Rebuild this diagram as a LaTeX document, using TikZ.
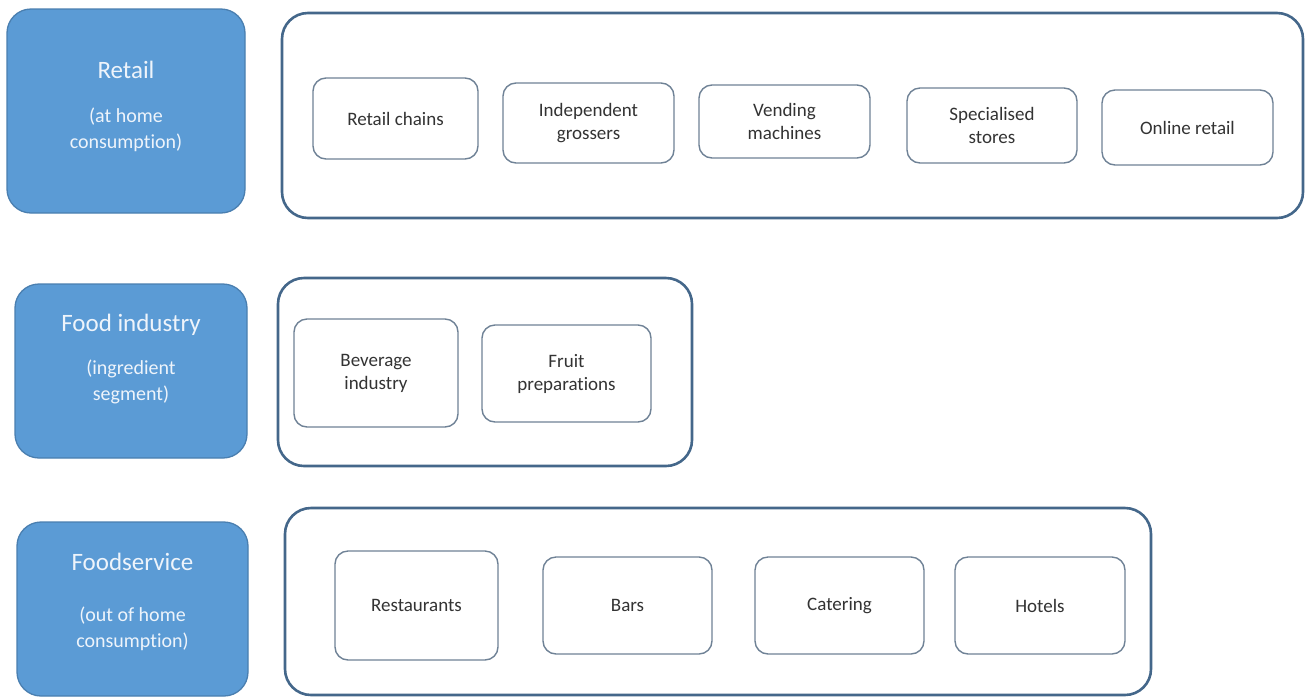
\documentclass[tikz,border=0pt]{standalone}
\usepackage{fontspec}
\setmainfont[Ligatures=CommonOff]{Carlito}
\definecolor{bluefill}{HTML}{5B9BD5}
\definecolor{blueedge}{HTML}{4A7FB0}
\definecolor{outeredge}{HTML}{44678A}
\definecolor{inneredge}{HTML}{6F8296}
\definecolor{innertext}{HTML}{333333}
\definecolor{lighttext}{HTML}{EEF4FB}
\begin{document}
\begin{tikzpicture}[x=1pt,y=-1pt,
  bluebox/.style={draw=blueedge,line width=1.3pt,fill=bluefill,rounded corners=24pt,inner sep=0pt},
  outerbox/.style={draw=outeredge,line width=2.6pt,fill=white,rounded corners=26pt,inner sep=0pt},
  innerbox/.style={draw=inneredge,line width=1.4pt,fill=white,rounded corners=13pt,inner sep=0pt,
     align=center,text=innertext,font=\fontsize{19}{23}\selectfont},
  titletext/.style={text=lighttext,font=\fontsize{25}{30}\selectfont,inner sep=0pt},
  subtext/.style={text=lighttext,font=\fontsize{20}{26}\selectfont,align=center,inner sep=0pt}]
\useasboundingbox (0,0) rectangle (1306,697);
\fill[white] (0,0) rectangle (1306,697);
\begin{scope}
\clip (0,0) rectangle (1306,697);
% ---------- Row 1: Retail ----------
\node[bluebox,minimum width=238,minimum height=204] (b1) at (126,111) {};
\node[titletext] (b1t) at (126,70) {Retail};
\node[subtext] (b1s) at (126,130) {(at home\\consumption)};
\node[outerbox,minimum width=1021,minimum height=205] (o1) at (792.5,115.5) {};
\node[innerbox,minimum width=165,minimum height=81] (r1) at (395.5,118.5) {Retail chains};
\node[innerbox,minimum width=171,minimum height=80] (r2) at (588.5,123) {Independent\\grossers};
\node[innerbox,minimum width=171,minimum height=73] (r3) at (784.5,121.5) {Vending\\machines};
\node[innerbox,minimum width=170,minimum height=75] (r4) at (992,125.5) {Specialised\\stores};
\node[innerbox,minimum width=171,minimum height=75] (r5) at (1187.5,127.5) {Online retail};
% ---------- Row 2: Food industry ----------
\node[bluebox,minimum width=232,minimum height=174] (b2) at (131,371) {};
\node[titletext] (b2t) at (131,325) {Food industry};
\node[subtext] (b2s) at (131,382) {(ingredient\\segment)};
\node[outerbox,minimum width=414,minimum height=188] (o2) at (485,372) {};
\node[innerbox,minimum width=164,minimum height=108] (f1) at (376,373) {Beverage\\industry};
\node[innerbox,minimum width=169,minimum height=97] (f2) at (566.5,373.5) {Fruit\\preparations};
% ---------- Row 3: Foodservice ----------
\node[bluebox,minimum width=231,minimum height=174] (b3) at (132.5,609) {};
\node[titletext] (b3t) at (132.5,562) {Foodservice};
\node[subtext] (b3s) at (132.5,629) {(out of home\\consumption)};
\node[outerbox,minimum width=866,minimum height=187] (o3) at (718,601.5) {};
\node[innerbox,minimum width=163,minimum height=109] (s1) at (416.5,605.5) {Restaurants};
\node[innerbox,minimum width=169,minimum height=97] (s2) at (627.5,605.5) {Bars};
\node[innerbox,minimum width=169,minimum height=97] (s3) at (839.5,605.5) {Catering};
\node[innerbox,minimum width=170,minimum height=97] (s4) at (1040,605.5) {Hotels};
\end{scope}
\end{tikzpicture}
\end{document}
